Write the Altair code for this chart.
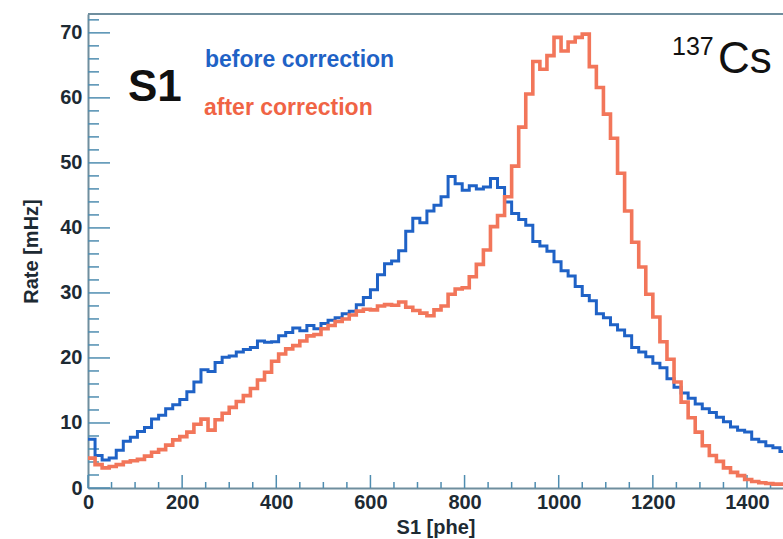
import altair as alt
import pandas as pd

# bin left edges (phe), 15 phe bins
bin_edges = list(range(0, 1485, 15))

before_rate = [7.5, 5.0, 4.3, 4.6, 5.8, 7.2, 7.8, 8.7, 9.3, 10.6,
               11.2, 12.2, 12.8, 13.6, 14.8, 16.3, 18.2, 17.9, 19.3, 20.1,
               20.3, 20.9, 21.3, 21.6, 22.6, 22.4, 22.5, 23.4, 23.9, 24.6,
               24.2, 25.0, 24.5, 25.3, 25.8, 26.2, 26.8, 27.2, 28.2, 29.3,
               30.5, 32.8, 34.5, 34.9, 36.5, 39.5, 41.5, 40.8, 42.6, 43.5,
               44.8, 47.9, 46.8, 45.8, 46.5, 46.0, 46.3, 47.6, 46.2, 44.0,
               42.2, 41.3, 40.4, 37.9, 37.2, 36.4, 34.8, 33.4, 32.6, 31.0,
               29.6, 28.8, 26.8, 26.2, 25.1, 24.3, 23.4, 21.6, 20.9, 20.2,
               19.2, 18.5, 16.8, 15.5, 14.6, 13.8, 12.9, 12.2, 11.6, 10.9,
               10.2, 9.4, 8.9, 8.6, 7.5, 7.1, 6.5, 6.2, 5.6]

after_rate = [4.6, 3.6, 3.1, 3.3, 3.6, 4.0, 4.2, 4.4, 4.9, 5.5,
              5.9, 6.6, 7.4, 7.9, 8.6, 9.8, 10.6, 8.9, 10.5, 11.5,
              12.4, 13.3, 14.2, 15.3, 16.6, 17.8, 19.5, 20.6, 21.4, 21.9,
              22.6, 23.4, 23.6, 24.5, 25.0, 25.6, 26.0, 26.6, 27.2, 27.5,
              27.4, 28.0, 28.2, 28.1, 28.6, 27.8, 27.3, 26.9, 26.5, 27.4,
              28.0, 29.8, 30.6, 30.8, 32.5, 34.4, 36.6, 40.2, 41.9, 44.8,
              49.5, 55.5, 60.6, 65.6, 64.4, 66.5, 69.3, 67.2, 68.6, 69.3,
              69.8, 64.8, 61.6, 57.5, 53.8, 48.4, 42.6, 37.8, 34.0, 29.8,
              26.3, 22.5, 19.8, 16.3, 13.2, 10.8, 8.6, 6.5, 5.0, 4.1,
              3.1, 2.4, 1.9, 1.3, 1.0, 0.8, 0.7, 0.6, 0.6]

x_major = [0, 200, 400, 600, 800, 1000, 1200, 1400]
x_minor = [50, 100, 150, 250, 300, 350, 450, 500, 550, 650, 700, 750,
           850, 900, 950, 1050, 1100, 1150, 1250, 1300, 1350, 1450]
y_major = [0, 10, 20, 30, 40, 50, 60, 70]
y_minor = [2, 4, 6, 8, 12, 14, 16, 18, 22, 24, 26, 28, 32, 34, 36, 38,
           42, 44, 46, 48, 52, 54, 56, 58, 62, 64, 66, 68, 72]

X_MAX = 1476.5
Y_MAX = 72.9
W, H = 695, 474

BLUE = "#1f62c6"
ORANGE = "#f2765a"
TICK = "#4f8db0"
FRAME = "#6f8e9e"
LABEL = "#1d2a33"

edges_ext = bin_edges + [bin_edges[-1] + 15]
df = pd.DataFrame({
    "S1": edges_ext * 2,
    "rate": before_rate + [before_rate[-1]] + after_rate + [after_rate[-1]],
    "series": ["before"] * len(edges_ext) + ["after"] * len(edges_ext),
})

xs = alt.Scale(domain=[0, X_MAX], nice=False, zero=False)
ys = alt.Scale(domain=[0, Y_MAX], nice=False, zero=False)

x_axis = alt.Axis(values=x_major, format="d", ticks=False, grid=False, labelFontSize=20,
                  labelFont="Liberation Sans", labelFontWeight="bold",
                  labelColor=LABEL, labelPadding=4, domainColor=FRAME,
                  domainWidth=2, title="S1 [phe]", titleFontSize=20,
                  titleFont="Liberation Sans", titleFontWeight="bold",
                  titleColor=LABEL, titlePadding=5, labelFlush=False)
y_axis = alt.Axis(values=y_major, format="d", ticks=False, grid=False, labelFontSize=20,
                  labelFont="Liberation Sans", labelFontWeight="bold",
                  labelColor=LABEL, labelPadding=6, domainColor=FRAME,
                  domainWidth=2, title="Rate [mHz]", titleFontSize=20,
                  titleFont="Liberation Sans", titleFontWeight="bold",
                  titleColor=LABEL, titlePadding=18)

lines = alt.Chart(df).mark_line(interpolate="step-after", clip=True).encode(
    x=alt.X("S1:Q", scale=xs, axis=x_axis),
    y=alt.Y("rate:Q", scale=ys, axis=y_axis),
    color=alt.Color("series:N", scale=alt.Scale(domain=["before", "after"],
                                                 range=[BLUE, ORANGE]), legend=None),
    strokeWidth=alt.StrokeWidth("series:N", scale=alt.Scale(domain=["before", "after"],
                                                             range=[3, 3.6]), legend=None),
    order=alt.Order("S1:Q"),
)

xmaj = alt.Chart(pd.DataFrame({"v": x_major})).mark_rule(color=TICK, strokeWidth=1.5).encode(
    x=alt.X("v:Q", scale=xs), y=alt.value(H), y2=alt.value(H - 13))
xmin = alt.Chart(pd.DataFrame({"v": x_minor})).mark_rule(color=TICK, strokeWidth=1.5).encode(
    x=alt.X("v:Q", scale=xs), y=alt.value(H), y2=alt.value(H - 6))
ymaj = alt.Chart(pd.DataFrame({"v": y_major})).mark_rule(color=TICK, strokeWidth=1.5).encode(
    y=alt.Y("v:Q", scale=ys), x=alt.value(0), x2=alt.value(22))
ymin = alt.Chart(pd.DataFrame({"v": y_minor})).mark_rule(color=TICK, strokeWidth=1.5).encode(
    y=alt.Y("v:Q", scale=ys), x=alt.value(0), x2=alt.value(11))

top_frame = alt.Chart(pd.DataFrame({"a": [0]})).mark_rule(color=FRAME, strokeWidth=2).encode(
    x=alt.value(0), x2=alt.value(W), y=alt.value(0))

s1_text = alt.Chart(pd.DataFrame({"t": ["S1"]})).mark_text(
    font="Liberation Sans", fontWeight="bold", fontSize=44, color="#111111",
    align="left", baseline="alphabetic").encode(
    text="t:N", x=alt.value(40), y=alt.value(87))
before_text = alt.Chart(pd.DataFrame({"t": ["before correction"]})).mark_text(
    font="Liberation Sans", fontWeight="bold", fontSize=23, color=BLUE,
    align="left", baseline="alphabetic").encode(
    text="t:N", x=alt.value(117), y=alt.value(53))
after_text = alt.Chart(pd.DataFrame({"t": ["after correction"]})).mark_text(
    font="Liberation Sans", fontWeight="bold", fontSize=23, color="#f06445",
    align="left", baseline="alphabetic").encode(
    text="t:N", x=alt.value(116), y=alt.value(101))
iso_num = alt.Chart(pd.DataFrame({"t": ["137"]})).mark_text(
    font="Liberation Sans", fontSize=25, color="#111111",
    align="left", baseline="alphabetic").encode(
    text="t:N", x=alt.value(584), y=alt.value(41))
iso_cs = alt.Chart(pd.DataFrame({"t": ["Cs"]})).mark_text(
    font="Liberation Sans", fontSize=44, color="#111111",
    align="left", baseline="alphabetic").encode(
    text="t:N", x=alt.value(630), y=alt.value(59))

chart = alt.layer(
    xmin, xmaj, ymin, ymaj, lines, top_frame,
    s1_text, before_text, after_text, iso_num, iso_cs,
).properties(
    width=W, height=H,
    autosize=alt.AutoSizeParams(type="none"),
    padding={"left": 88, "top": 14, "right": 0, "bottom": 51},
    background="white",
).configure_view(stroke=None)

chart.save("out.html", embed_options={"renderer": "svg", "actions": False})
